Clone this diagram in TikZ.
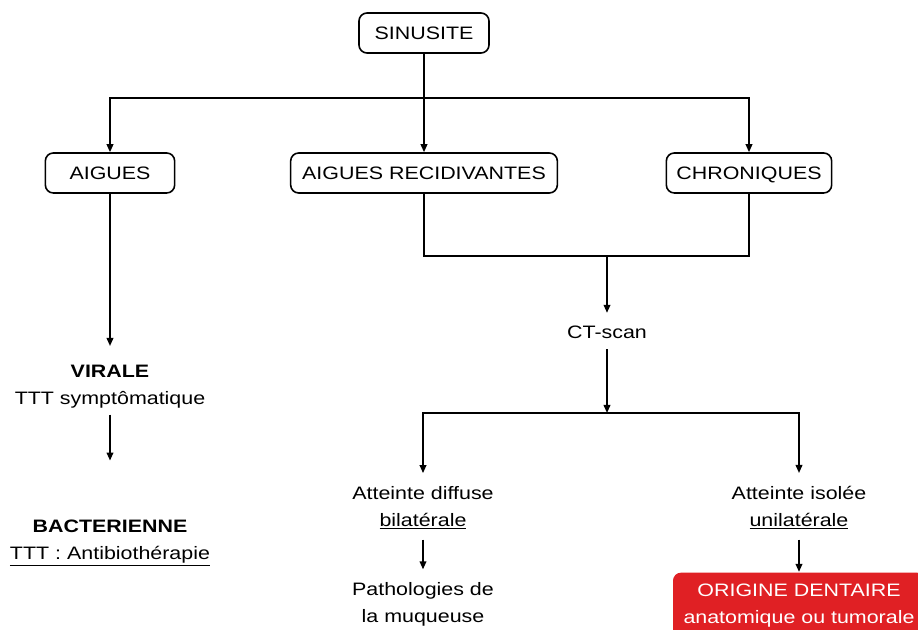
\documentclass[tikz,border=0pt]{standalone}
\usepackage{fontspec}
\setmainfont{Liberation Sans}[FakeStretch=1.19]
\usetikzlibrary{arrows.meta}
\definecolor{dentred}{RGB}{224,32,36}
\begin{document}
\begin{tikzpicture}[x=0.75pt,y=-0.75pt,
  font=\fontsize{13.5}{20.25}\selectfont,
  line width=1.2pt,
  box/.style={draw, rounded corners=6pt, minimum height=30pt, inner sep=0pt,
              text height=9.7pt, text depth=0pt},
  lbl/.style={align=center, inner sep=0pt},
  arr/.style={-{Triangle[length=6pt,width=5pt]}},
  redbox/.style={fill=dentred, text=white, rounded corners=6pt, align=center,
                 minimum width=189pt, minimum height=50pt, inner sep=0pt}]
\useasboundingbox (0,0) rectangle (918,630);
\clip (0,0) rectangle (918,630);
\fill[white] (0,0) rectangle (918,630);

% boxes
\node[box, minimum width=97.5pt] (sin) at (424,33) {SINUSITE};
\node[box, minimum width=97pt]   (aig) at (110,173) {AIGUES};
\node[box, minimum width=200pt]  (rec) at (424,173) {AIGUES RECIDIVANTES};
\node[box, minimum width=124pt]  (chr) at (749,173) {CHRONIQUES};

% text nodes
\node[lbl] (ct) at (607,332) {CT-scan};
\node[lbl] (virale) at (110,387) {\textbf{VIRALE}\\TTT symptômatique};
\node[lbl] (bact) at (110,543) {\textbf{BACTERIENNE}\\\underline{TTT : Antibiothérapie}};
\node[lbl] (diff) at (423,508) {Atteinte diffuse\\\underline{bilatérale}};
\node[lbl] (patho) at (423,604) {Pathologies de\\la muqueuse};
\node[lbl] (iso) at (799,508) {Atteinte isolée\\\underline{unilatérale}};
\node[redbox] (orig) at (799,606) {ORIGINE DENTAIRE\\anatomique ou tumorale};

% junction coordinates
\coordinate (split) at (424,98);
\coordinate (join) at (607,256);
\coordinate (split2) at (607,413);

% connectors
\draw (sin.south) -- (split);
\draw[arr] (split) -| (aig.north);
\draw[arr] (split) -- (rec.north);
\draw[arr] (split) -| (chr.north);

\draw (rec.south) |- (join);
\draw (chr.south) |- (join);
\draw[arr] (join) -- ([yshift=9pt]ct.north);

\draw[arr] ([yshift=-7.5pt]ct.south) -- (split2);
\draw[arr] (split2) -| ([yshift=9.5pt]diff.north);
\draw[arr] (split2) -| ([yshift=9.5pt]iso.north);

\draw[arr] ([yshift=-7pt]diff.south) -- ([yshift=9pt]patho.north);
\draw[arr] ([yshift=-7pt]iso.south) -- (orig.north);

\draw[arr] (aig.south) -- ([yshift=14pt]virale.north);
\draw[arr] ([yshift=-4pt]virale.south) -- ([yshift=44pt]bact.north);
\end{tikzpicture}
\end{document}
